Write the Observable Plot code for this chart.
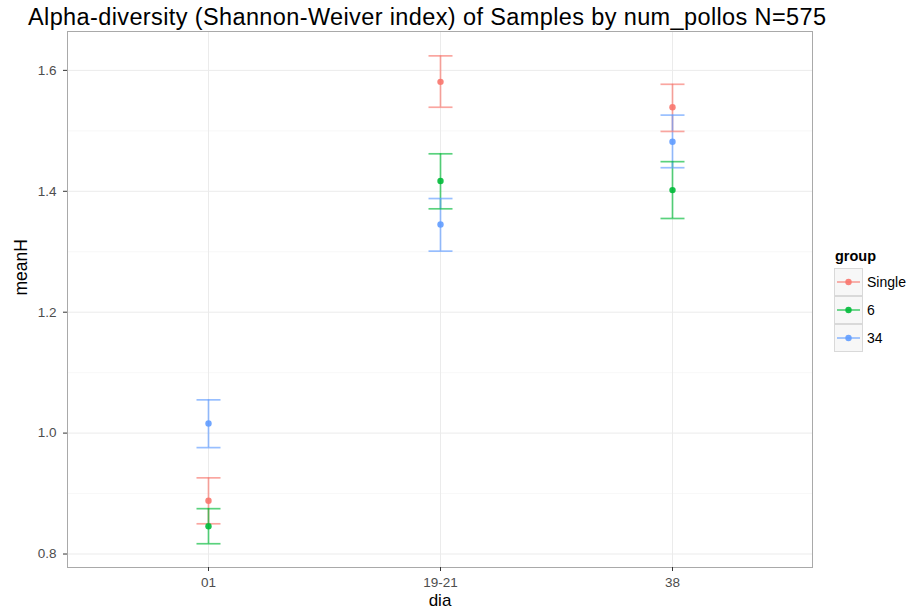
<!DOCTYPE html>
<html>
<head>
<meta charset="utf-8">
<script src="https://cdn.jsdelivr.net/npm/d3@7"></script>
<script src="https://cdn.jsdelivr.net/npm/@observablehq/plot@0.6"></script>
<style>
  body { margin: 0; background: white; }
  #wrap { position: relative; width: 912px; height: 614px; font-family: "Liberation Sans", Arial, sans-serif; }
  #title { position: absolute; left: 28px; top: 4px; font-size: 23.5px; letter-spacing: 0.38px; color: #000; white-space: nowrap; }
  #legend { position: absolute; left: 834px; top: 248px; font-size: 14px; color: #000; }
  #legend .ttl { font-weight: bold; font-size: 14.5px; margin-bottom: 4px; margin-left: 1px; }
  #legend .row { display: flex; align-items: center; height: 28px; }
  #legend svg { display: block; margin-right: 4px; }
</style>
</head>
<body>
<div id="wrap">
  <div id="chart"></div>
  <div id="title">Alpha-diversity (Shannon-Weiver index) of Samples by num_pollos N=575</div>
  <div id="legend"></div>
</div>
<script>
const dias = ["01", "19-21", "38"];
const groups = ["Single", "6", "34"];
const colors = ["#F8766D", "#00BA38", "#619CFF"];

const meanSingle = [0.888, 1.581, 1.539];
const meanSix    = [0.846, 1.417, 1.402];
const meanThirty = [1.016, 1.345, 1.482];

const lowSingle  = [0.850, 1.539, 1.499];
const lowSix     = [0.817, 1.371, 1.355];
const lowThirty  = [0.976, 1.301, 1.439];

const highSingle = [0.926, 1.624, 1.577];
const highSix    = [0.875, 1.462, 1.449];
const highThirty = [1.055, 1.388, 1.526];

const majorTicks = [0.8, 1.0, 1.2, 1.4, 1.6];
const minorTicks = [0.9, 1.1, 1.3, 1.5];

const means = [meanSingle, meanSix, meanThirty];
const lows = [lowSingle, lowSix, lowThirty];
const highs = [highSingle, highSix, highThirty];

const data = [];
groups.forEach((g, gi) => dias.forEach((d, di) => {
  data.push({dia: d, group: g, meanH: means[gi][di], lo: lows[gi][di], hi: highs[gi][di]});
}));

const cap = { draw(ctx) { ctx.moveTo(-12, 0); ctx.lineTo(12, 0); } };

const chart = Plot.plot({
  width: 912,
  height: 614,
  marginTop: 31,
  marginBottom: 47,
  marginLeft: 67,
  marginRight: 100,
  style: {fontFamily: "Liberation Sans, Arial, sans-serif", background: "white"},
  x: {type: "point", domain: dias, padding: 0.6, label: null},
  y: {domain: [0.7777, 1.6643], label: null},
  color: {domain: groups, range: colors},
  marks: [
    Plot.gridY(minorTicks, {stroke: "#f4f4f4", strokeOpacity: 1, strokeWidth: 0.7}),
    Plot.gridY(majorTicks, {stroke: "#ebebeb", strokeOpacity: 1, strokeWidth: 1}),
    Plot.gridX(dias, {stroke: "#ebebeb", strokeOpacity: 1, strokeWidth: 1}),
    Plot.frame({stroke: "#a9a9a9", strokeWidth: 1}),
    Plot.axisY(majorTicks, {tickSize: 4, tickPadding: 7, fontSize: 13.5, color: "#4d4d4d", stroke: "#333", tickFormat: d3.format(".1f"), label: null}),
    Plot.axisX(dias, {tickSize: 4, tickPadding: 6, fontSize: 13.5, color: "#4d4d4d", stroke: "#333", label: null}),
    Plot.ruleX(data, {x: "dia", y1: "lo", y2: "hi", stroke: "group", strokeOpacity: 0.65, strokeWidth: 1.7}),
    Plot.dot(data, {x: "dia", y: "lo", symbol: cap, stroke: "group", fill: "none", strokeOpacity: 0.65, strokeWidth: 1.7}),
    Plot.dot(data, {x: "dia", y: "hi", symbol: cap, stroke: "group", fill: "none", strokeOpacity: 0.65, strokeWidth: 1.7}),
    Plot.dot(data, {x: "dia", y: "meanH", fill: "group", stroke: "none", r: 3.2, fillOpacity: 0.9}),
    Plot.text(["meanH"], {frameAnchor: "left", dx: -46, dy: -4, rotate: -90, fontSize: 17.5, fill: "#000"}),
    Plot.text(["dia"], {frameAnchor: "bottom", dy: 38, fontSize: 17, fill: "#000"})
  ]
});
document.getElementById("chart").appendChild(chart);

// legend
const leg = document.getElementById("legend");
leg.innerHTML = '<div class="ttl">group</div>' + groups.map((g, i) =>
  `<div class="row"><svg width="29" height="28"><rect x="0.5" y="0.5" width="28" height="27" fill="#f7f7f7" stroke="#d9d9d9"/>` +
  `<line x1="3" x2="26" y1="14" y2="14" stroke="${colors[i]}" stroke-width="1.7" stroke-opacity="0.65"/>` +
  `<circle cx="14.5" cy="14" r="3.2" fill="${colors[i]}" fill-opacity="0.9"/></svg><span>${g}</span></div>`
).join("");
</script>
</body>
</html>
